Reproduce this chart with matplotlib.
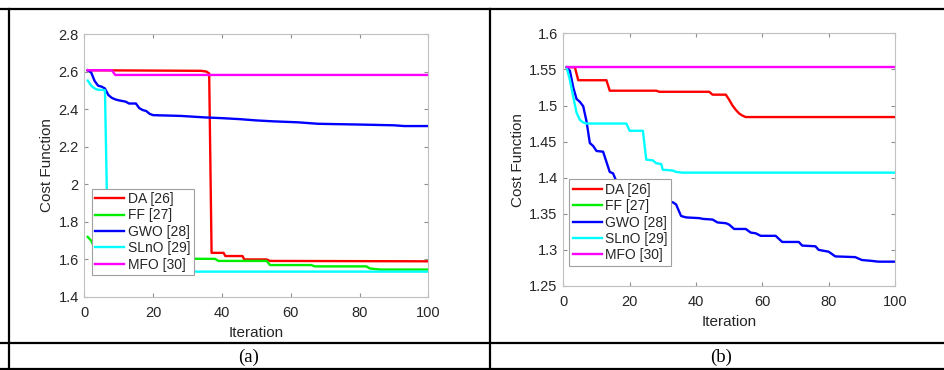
import matplotlib
matplotlib.use("Agg")
import matplotlib.pyplot as plt
from matplotlib.lines import Line2D

plt.rcParams['font.family'] = ['Liberation Sans', 'DejaVu Sans']

# ---------------- data ----------------
labels = ["DA [26]", "FF [27]", "GWO [28]", "SLnO [29]", "MFO [30]"]
colors = ["#ff0000", "#00ee00", "#0000ff", "#00ffff", "#ff00ff"]

# panel (a)
DA_a_x = [1, 34, 35.5, 36.3, 37, 40.5, 41, 46, 46.5, 53, 54, 100]
DA_a_y = [2.607, 2.604, 2.600, 2.590, 1.635, 1.635, 1.618, 1.618, 1.600, 1.600, 1.592, 1.590]
FF_a_x = [1, 2, 3, 5, 8, 12, 38, 39, 53, 54, 66, 67, 82, 83, 86, 100]
FF_a_y = [1.720, 1.700, 1.660, 1.630, 1.615, 1.605, 1.603, 1.592, 1.592, 1.570, 1.570,
          1.563, 1.563, 1.552, 1.546, 1.546]
GWO_a_x = [1, 2, 3, 4, 5, 6, 7, 8, 9, 10, 12, 13, 15, 16, 17, 18, 19, 20, 28, 35,
           40, 45, 50, 55, 62, 68, 80, 90, 93, 100]
GWO_a_y = [2.607, 2.595, 2.550, 2.525, 2.520, 2.510, 2.475, 2.460, 2.452, 2.447, 2.440,
           2.430, 2.430, 2.405, 2.395, 2.390, 2.375, 2.368, 2.364, 2.356, 2.352, 2.347,
           2.340, 2.335, 2.330, 2.322, 2.318, 2.314, 2.310, 2.310]
SLnO_a_x = [1, 2, 3, 4, 5.5, 6, 7, 100]
SLnO_a_y = [2.552, 2.525, 2.510, 2.503, 2.502, 2.500, 1.535, 1.535]
MFO_a_x = [1, 8, 9, 100]
MFO_a_y = [2.607, 2.607, 2.582, 2.582]

# panel (b)
DA_b_x = [1, 3.5, 4.5, 13, 14, 28, 29, 44, 45, 49, 50, 51, 52, 53, 54, 55, 100]
DA_b_y = [1.553, 1.553, 1.535, 1.535, 1.5205, 1.5205, 1.519, 1.519, 1.515, 1.515,
          1.508, 1.500, 1.494, 1.489, 1.486, 1.484, 1.484]
FF_b_x = []
FF_b_y = []
GWO_b_x = [1, 2, 3, 4, 5, 6, 7, 8, 9, 10, 12, 13, 14, 15, 16, 20, 25, 30, 31, 33,
           34, 35.5, 37, 41, 42, 45, 46.5, 49, 50, 51.5, 55, 56.5, 58, 59.5, 64, 66,
           71, 72, 76, 77, 80, 82, 88, 90, 92.5, 95, 100]
GWO_b_y = [1.553, 1.548, 1.525, 1.509, 1.505, 1.499, 1.478, 1.448, 1.444, 1.437,
           1.436, 1.422, 1.408, 1.406, 1.395, 1.385, 1.376, 1.368, 1.367, 1.366,
           1.363, 1.347, 1.345, 1.344, 1.343, 1.342, 1.338, 1.337, 1.335, 1.329,
           1.329, 1.324, 1.323, 1.3195, 1.3195, 1.311, 1.311, 1.306, 1.305, 1.300,
           1.2975, 1.291, 1.290, 1.286, 1.285, 1.2837, 1.2837]
SLnO_b_x = [1, 2, 3, 4, 5, 6, 7, 19, 20, 24, 25, 27, 28, 29.5, 30, 33, 34, 36, 100]
SLnO_b_y = [1.553, 1.535, 1.512, 1.490, 1.480, 1.4765, 1.475, 1.475, 1.465, 1.465,
            1.425, 1.424, 1.420, 1.419, 1.411, 1.410, 1.408, 1.407, 1.407]
MFO_b_x = [1, 100]
MFO_b_y = [1.553, 1.553]

xticks = [0, 20, 40, 60, 80, 100]
yticks_a = [1.4, 1.6, 1.8, 2.0, 2.2, 2.4, 2.6, 2.8]
ytick_labels_a = ["1.4", "1.6", "1.8", "2", "2.2", "2.4", "2.6", "2.8"]
yticks_b = [1.25, 1.3, 1.35, 1.4, 1.45, 1.5, 1.55, 1.6]
ytick_labels_b = ["1.25", "1.3", "1.35", "1.4", "1.45", "1.5", "1.55", "1.6"]

# ---------------- figure ----------------
W, H = 944, 370
fig = plt.figure(figsize=(W / 100, H / 100), dpi=100)

def fx(px):
    return px / W

def fy(py):
    return 1 - py / H

spine_col = "#c0c0c0"
text_col = "#262626"

def setup(ax, yticks, ylabels, ylim):
    ax.set_xlim(0, 100)
    ax.set_ylim(*ylim)
    ax.set_xticks(xticks)
    ax.set_xticklabels([str(t) for t in xticks])
    ax.set_yticks(yticks)
    ax.set_yticklabels(ylabels)
    for s in ax.spines.values():
        s.set_color(spine_col)
        s.set_linewidth(0.8)
    ax.tick_params(direction="in", length=3, width=0.8, color="#909090",
                   top=True, right=True, labelsize=10.5, labelcolor=text_col)
    ax.tick_params(axis="x", pad=6.5)
    ax.tick_params(axis="y", pad=4)
    ax.set_xlabel("Iteration", fontsize=11, color=text_col, labelpad=4.5)
    ax.set_ylabel("Cost Function", fontsize=11, color=text_col, labelpad=3)

lw = 1.7

# panel (a)
ax1 = fig.add_axes([fx(84.3), fy(297), fx(428.3) - fx(84.3), fy(34) - fy(297)])
series_a = [(DA_a_x, DA_a_y), (FF_a_x, FF_a_y), (GWO_a_x, GWO_a_y),
            (SLnO_a_x, SLnO_a_y), (MFO_a_x, MFO_a_y)]
for (xs, ys), c, lab in zip(series_a, colors, labels):
    ax1.plot(xs, ys, color=c, lw=lw, label=lab)
setup(ax1, yticks_a, ytick_labels_a, (1.4, 2.8))

# panel (b)
ax2 = fig.add_axes([fx(563.3), fy(286), fx(895) - fx(563.3), fy(33.3) - fy(286)])
series_b = [(DA_b_x, DA_b_y), (FF_b_x, FF_b_y), (GWO_b_x, GWO_b_y),
            (SLnO_b_x, SLnO_b_y), (MFO_b_x, MFO_b_y)]
for (xs, ys), c, lab in zip(series_b, colors, labels):
    ax2.plot(xs, ys, color=c, lw=lw, label=lab)
setup(ax2, yticks_b, ytick_labels_b, (1.25, 1.6))

def add_legend(ax, x0, y0):
    leg = ax.legend(loc="lower left", bbox_to_anchor=(fx(x0), fy(y0)),
                    bbox_transform=fig.transFigure, borderaxespad=0,
                    fontsize=10, handlelength=2.1, handletextpad=0.25,
                    labelspacing=0.17, borderpad=0.25, fancybox=False,
                    framealpha=1, edgecolor="#a0a0a0")
    leg.get_frame().set_linewidth(0.8)
    for t in leg.get_texts():
        t.set_color(text_col)
    return leg

add_legend(ax1, 91.7, 275)
add_legend(ax2, 569.3, 265.7)

# ---------------- table lines ----------------
tl = dict(color="black", lw=1.6, transform=fig.transFigure, clip_on=False)
fig.add_artist(Line2D([fx(0), fx(944)], [fy(8.7), fy(8.7)], **tl))
fig.add_artist(Line2D([fx(0), fx(944)], [fy(343), fy(343)], **tl))
fig.add_artist(Line2D([fx(0), fx(944)], [fy(368.8), fy(368.8)], **tl))
fig.add_artist(Line2D([fx(9), fx(9)], [fy(8.7), fy(368.8)], **tl))
fig.add_artist(Line2D([fx(490), fx(490)], [fy(8.7), fy(368.8)], **tl))

fig.text(fx(249), fy(357.5), "(a)", ha="center", va="center",
         fontsize=13.5, family="Liberation Serif")
fig.text(fx(721), fy(357.5), "(b)", ha="center", va="center",
         fontsize=13.5, family="Liberation Serif")

fig.savefig("out.png", dpi=100)
